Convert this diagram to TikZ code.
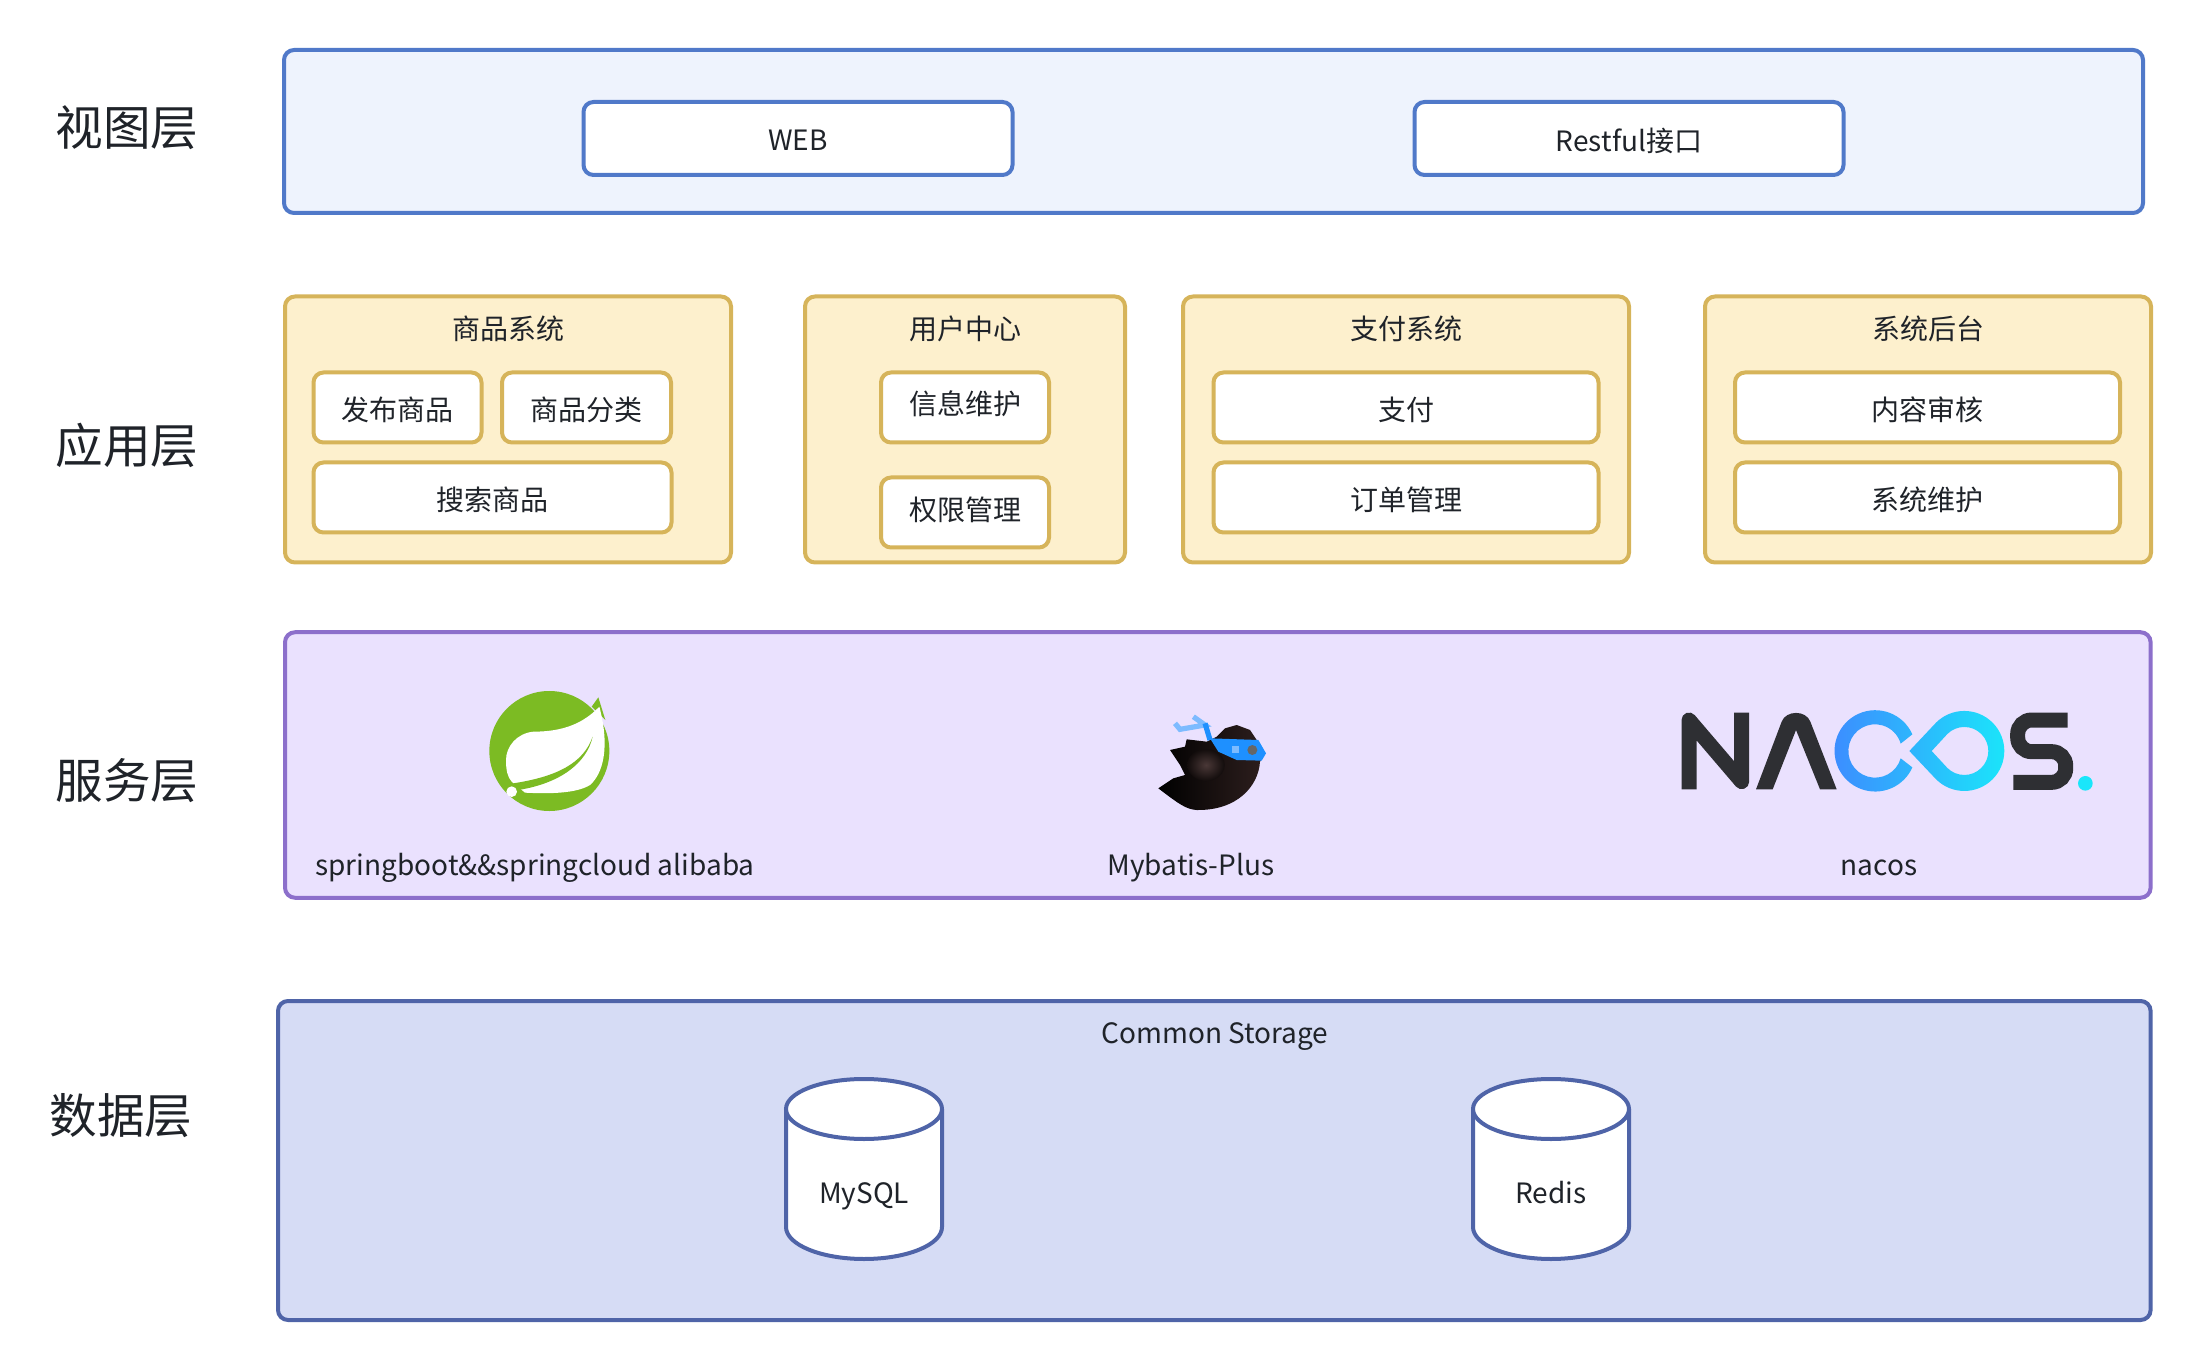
\documentclass[tikz,border=0pt]{standalone}
\usepackage{fontspec}
\setmainfont{Noto Sans CJK SC}

\definecolor{txtc}{HTML}{1F2329}
\definecolor{viewf}{HTML}{EEF3FD}
\definecolor{viewd}{HTML}{5079C9}
\definecolor{appf}{HTML}{FDF0CD}
\definecolor{appd}{HTML}{D6B45A}
\definecolor{srvf}{HTML}{EAE1FE}
\definecolor{srvd}{HTML}{8C6FCB}
\definecolor{dataf}{HTML}{D6DCF5}
\definecolor{datad}{HTML}{4F64A8}
\definecolor{springc}{HTML}{7CBB23}
\definecolor{nacosd}{HTML}{2E2F33}
\definecolor{nacosa}{HTML}{3D8BFF}
\definecolor{nacosb}{HTML}{1AE6FA}
\definecolor{bandc}{HTML}{1E90FF}
\definecolor{tailc}{HTML}{7DBBFF}
\definecolor{birdc}{HTML}{2E1F1E}
\definecolor{wingc}{HTML}{4A3837}

\tikzset{
  sized/.style 2 args={minimum width=#1*0.5pt, minimum height=#2*0.5pt},
  drop/.style={text height=#1, text depth=0pt},
  layerbox/.style={draw, line width=2pt, rounded corners=5pt, inner sep=0pt},
  itembox/.style={layerbox, fill=white, text=txtc, drop=12.6pt, font=\fontsize{14}{17}\selectfont},
  layername/.style={text=txtc, font=\fontsize{23.8}{29}\selectfont},
  caption/.style={text=txtc, font=\fontsize{14}{17}\selectfont},
  viewitem/.style={itembox, draw=viewd},
  appbox/.style={layerbox, draw=appd, fill=appf},
  appitem/.style={itembox, draw=appd},
  store/.style={draw=datad, fill=white, line width=2pt},
  zoomed/.style={x=0.16667pt, y=-0.16667pt}
}

\begin{document}
\begin{tikzpicture}[x=0.5pt, y=-0.5pt]
\useasboundingbox (0,0) rectangle (2200,1368);

\foreach \idx/\xpos/\ypos/\txt in {view/127/128/视图层, app/127/445/应用层, srv/127/781/服务层, data/121/1116/数据层} {
  \node[layername] (name\idx) at (\xpos,\ypos) {\txt};
}

% view
\node[layerbox, draw=viewd, fill=viewf, sized={1859}{163}] (viewlayer) at (1213.5,131.5) {};
\node[viewitem, drop=12pt, sized={429}{73}] (web) at (798,138.5) {WEB};
\node[viewitem, sized={429}{73}] (restful) at (1629,138.5) {Restful接口};

% app
\node[appbox, sized={446}{266}] (goods) at (508,429.5) {};
\node[appbox, sized={320}{266}] (user) at (965,429.5) {};
\node[appbox, sized={446}{266}] (pay) at (1406,429.5) {};
\node[appbox, sized={446}{266}] (admin) at (1928,429.5) {};
\node[caption] (goodstitle) at (508,329) {商品系统};
\node[caption] (usertitle) at (965,329) {用户中心};
\node[caption] (paytitle) at (1406,329) {支付系统};
\node[caption] (admintitle) at (1928,329) {系统后台};

\node[appitem, sized={168}{70}] (publish) at (397.5,407.5) {发布商品};
\node[appitem, sized={169}{70}] (category) at (586.5,407.5) {商品分类};
\node[appitem, sized={358}{70}] (search) at (492.5,497.5) {搜索商品};
\node[appitem, drop=7.1pt, sized={168}{70}] (info) at (965,407.5) {信息维护};
\node[appitem, drop=8.1pt, sized={168}{70}] (perm) at (965,512.5) {权限管理};
\node[appitem, sized={385}{70}] (payment) at (1406,407.5) {支付};
\node[appitem, sized={385}{70}] (order) at (1406,497.5) {订单管理};
\node[appitem, sized={385}{70}] (audit) at (1927.5,407.5) {内容审核};
\node[appitem, sized={385}{70}] (maintain) at (1927.5,497.5) {系统维护};

% service
\node[layerbox, draw=srvd, fill=srvf, sized={1865.6}{265.5}] (srvlayer) at (1217.8,765) {};
\node[caption] (springname) at (535,867.5) {springboot\&\&springcloud alibaba};
\node[caption] (mybatisname) at (1191,867.5) {Mybatis-Plus};
\node[caption] (nacosname) at (1879,867.5) {nacos};

\begin{scope}[shift={(450,670)}, zoomed]
\fill[springc] (298,243) circle (180);
\fill[springc] (425,110) -- (445,82) -- (466,150) -- cycle;
\fill[white] (448,110) .. controls (400,160) and (340,185) .. (250,185) .. controls (200,190) and (168,230) .. (168,270)
  .. controls (168,300) and (172,320) .. (185,335) -- (225,368) .. controls (300,372) and (380,370) .. (420,345)
  .. controls (460,310) and (480,230) .. (448,110) -- cycle;
\fill[springc] (190,340) .. controls (320,320) and (400,280) .. (428,200) .. controls (410,280) and (330,340) .. (205,360) -- cycle;
\fill[white] (185,365) circle (16);
\end{scope}

\begin{scope}[shift={(1130,690)}, zoomed]
\shade[left color=black, right color=birdc] (85,295) -- (130,265) -- (165,255) -- (150,225) -- (120,180) -- (165,170) -- (170,148)
  -- (230,155) -- (260,140) -- (285,115) -- (320,105) -- (360,120) -- (380,150) -- (405,190) -- (390,215)
  .. controls (385,290) and (320,362) .. (200,360) .. controls (170,358) and (150,345) .. (85,295) -- cycle;
\shade[inner color=wingc, outer color=birdc!40!black] (228,225) ellipse [x radius=56, y radius=48];
\fill[bandc] (240,145) -- (385,150) -- (408,190) -- (395,212) -- (320,210) -- (265,185) -- cycle;
\draw[tailc, line width=2.6pt] (135,100) -- (150,118) -- (225,105) -- (190,80);
\draw[bandc, line width=2.6pt] (225,100) -- (240,150);
\fill[tailc] (305,168) rectangle (328,190);
\fill[black!60!white] (367,180) circle (15);
\end{scope}

\begin{scope}[shift={(1660,690)}, zoomed]
\draw[nacosd, line width=7.5pt, line join=round] (87,298) -- (87,90) -- (245,275) -- (245,68);
\fill[nacosd] (288,298) -- (365,95) .. controls (378,60) and (438,60) .. (451,95) -- (530,298) -- (480,298) -- (408,120) -- (338,298) -- cycle;
\shade[left color=nacosa, right color=nacosb, even odd rule] (757,133) arc (-24:-336:122) -- (722,205) arc (16:344:80) -- cycle
  (748,183) -- (828,98) arc (225:495:120) -- cycle
  (815,183) -- (862,132) arc (225:495:72) -- cycle;
\draw[nacosd, line width=7.5pt, rounded corners=7pt] (1223,90) -- (1073,90) -- (1073,185) -- (1217,185) -- (1217,277) -- (1060,277);
\fill[nacosb] (1276,280) circle (22);
\end{scope}

% data
\node[layerbox, draw=datad, fill=dataf, sized={1872.6}{319}] (datalayer) at (1214.3,1160.5) {};
\node[caption] (storagetitle) at (1215,1036.5) {Common Storage};
\foreach \idx/\cx/\txt in {mysql/864/MySQL, redis/1551/Redis} {
  \draw[store] ({\cx-78},1109) -- ({\cx-78},1227) arc [start angle=180, end angle=0, x radius=78, y radius=32] -- ({\cx+78},1109);
  \draw[store] (\cx,1109) ellipse [x radius=78, y radius=30];
  \node[caption, text height=9.2pt, text depth=0pt] (\idx) at (\cx,1194.5) {\txt};
}

\end{tikzpicture}
\end{document}
